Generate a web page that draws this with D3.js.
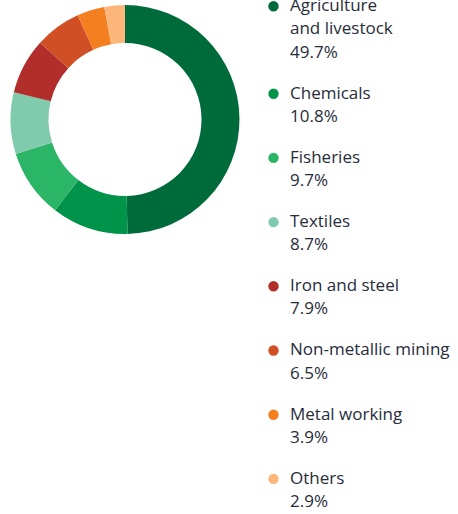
<!DOCTYPE html>
<html>
<head>
<meta charset="utf-8">
<script src="https://cdn.jsdelivr.net/npm/d3@7"></script>
<style>
  body { margin: 0; background: #fff; }
  svg { display: block; }
</style>
</head>
<body>
<svg id="chart" width="458" height="514"></svg>
<script>
// sectors, shares (%) and colours
const categories = ["Agriculture and livestock", "Chemicals", "Fisheries", "Textiles",
                    "Iron and steel", "Non-metallic mining", "Metal working", "Others"];
const shares = [49.7, 10.8, 9.7, 8.7, 7.9, 6.5, 3.9, 2.9];
const colours = ["#006b3a", "#00944a", "#2bb566", "#80cbad",
                 "#b12e2a", "#d04f25", "#f47f20", "#fdb67a"];
// legend label lines (first label wraps)
const labelLines = [["Agriculture", "and livestock"], ["Chemicals"], ["Fisheries"], ["Textiles"],
                    ["Iron and steel"], ["Non-metallic mining"], ["Metal working"], ["Others"]];

const data = categories.map((c, i) => ({ name: c, value: shares[i], color: colours[i], lines: labelLines[i] }));

const svg = d3.select("#chart");

// donut
const cx = 125, cy = 119.5, outerR = 114.5, innerR = 76.5;
const pie = d3.pie().value(d => d.value).sort(null);
const arc = d3.arc().innerRadius(innerR).outerRadius(outerR);

svg.append("g")
    .attr("transform", "translate(" + cx + "," + cy + ")")
  .selectAll("path")
  .data(pie(data))
  .enter()
  .append("path")
    .attr("d", arc)
    .attr("fill", d => d.data.color);

// legend
const lineH = 23.3, gap = 17.6;
let y = 11;
const legend = svg.append("g").attr("font-family", "'Open Sans', sans-serif")
    .attr("font-size", 17).attr("fill", "#272c3b");

data.forEach(d => {
  const g = legend.append("g");
  g.append("circle").attr("cx", 273.5).attr("cy", y - 4.8).attr("r", 5.2).attr("fill", d.color);
  const rows = d.lines.concat([d3.format(".1f")(d.value) + "%"]);
  rows.forEach((t, j) => {
    g.append("text").attr("x", 290).attr("y", y + j * lineH).text(t);
  });
  y += rows.length * lineH + gap;
});
</script>
</body>
</html>
